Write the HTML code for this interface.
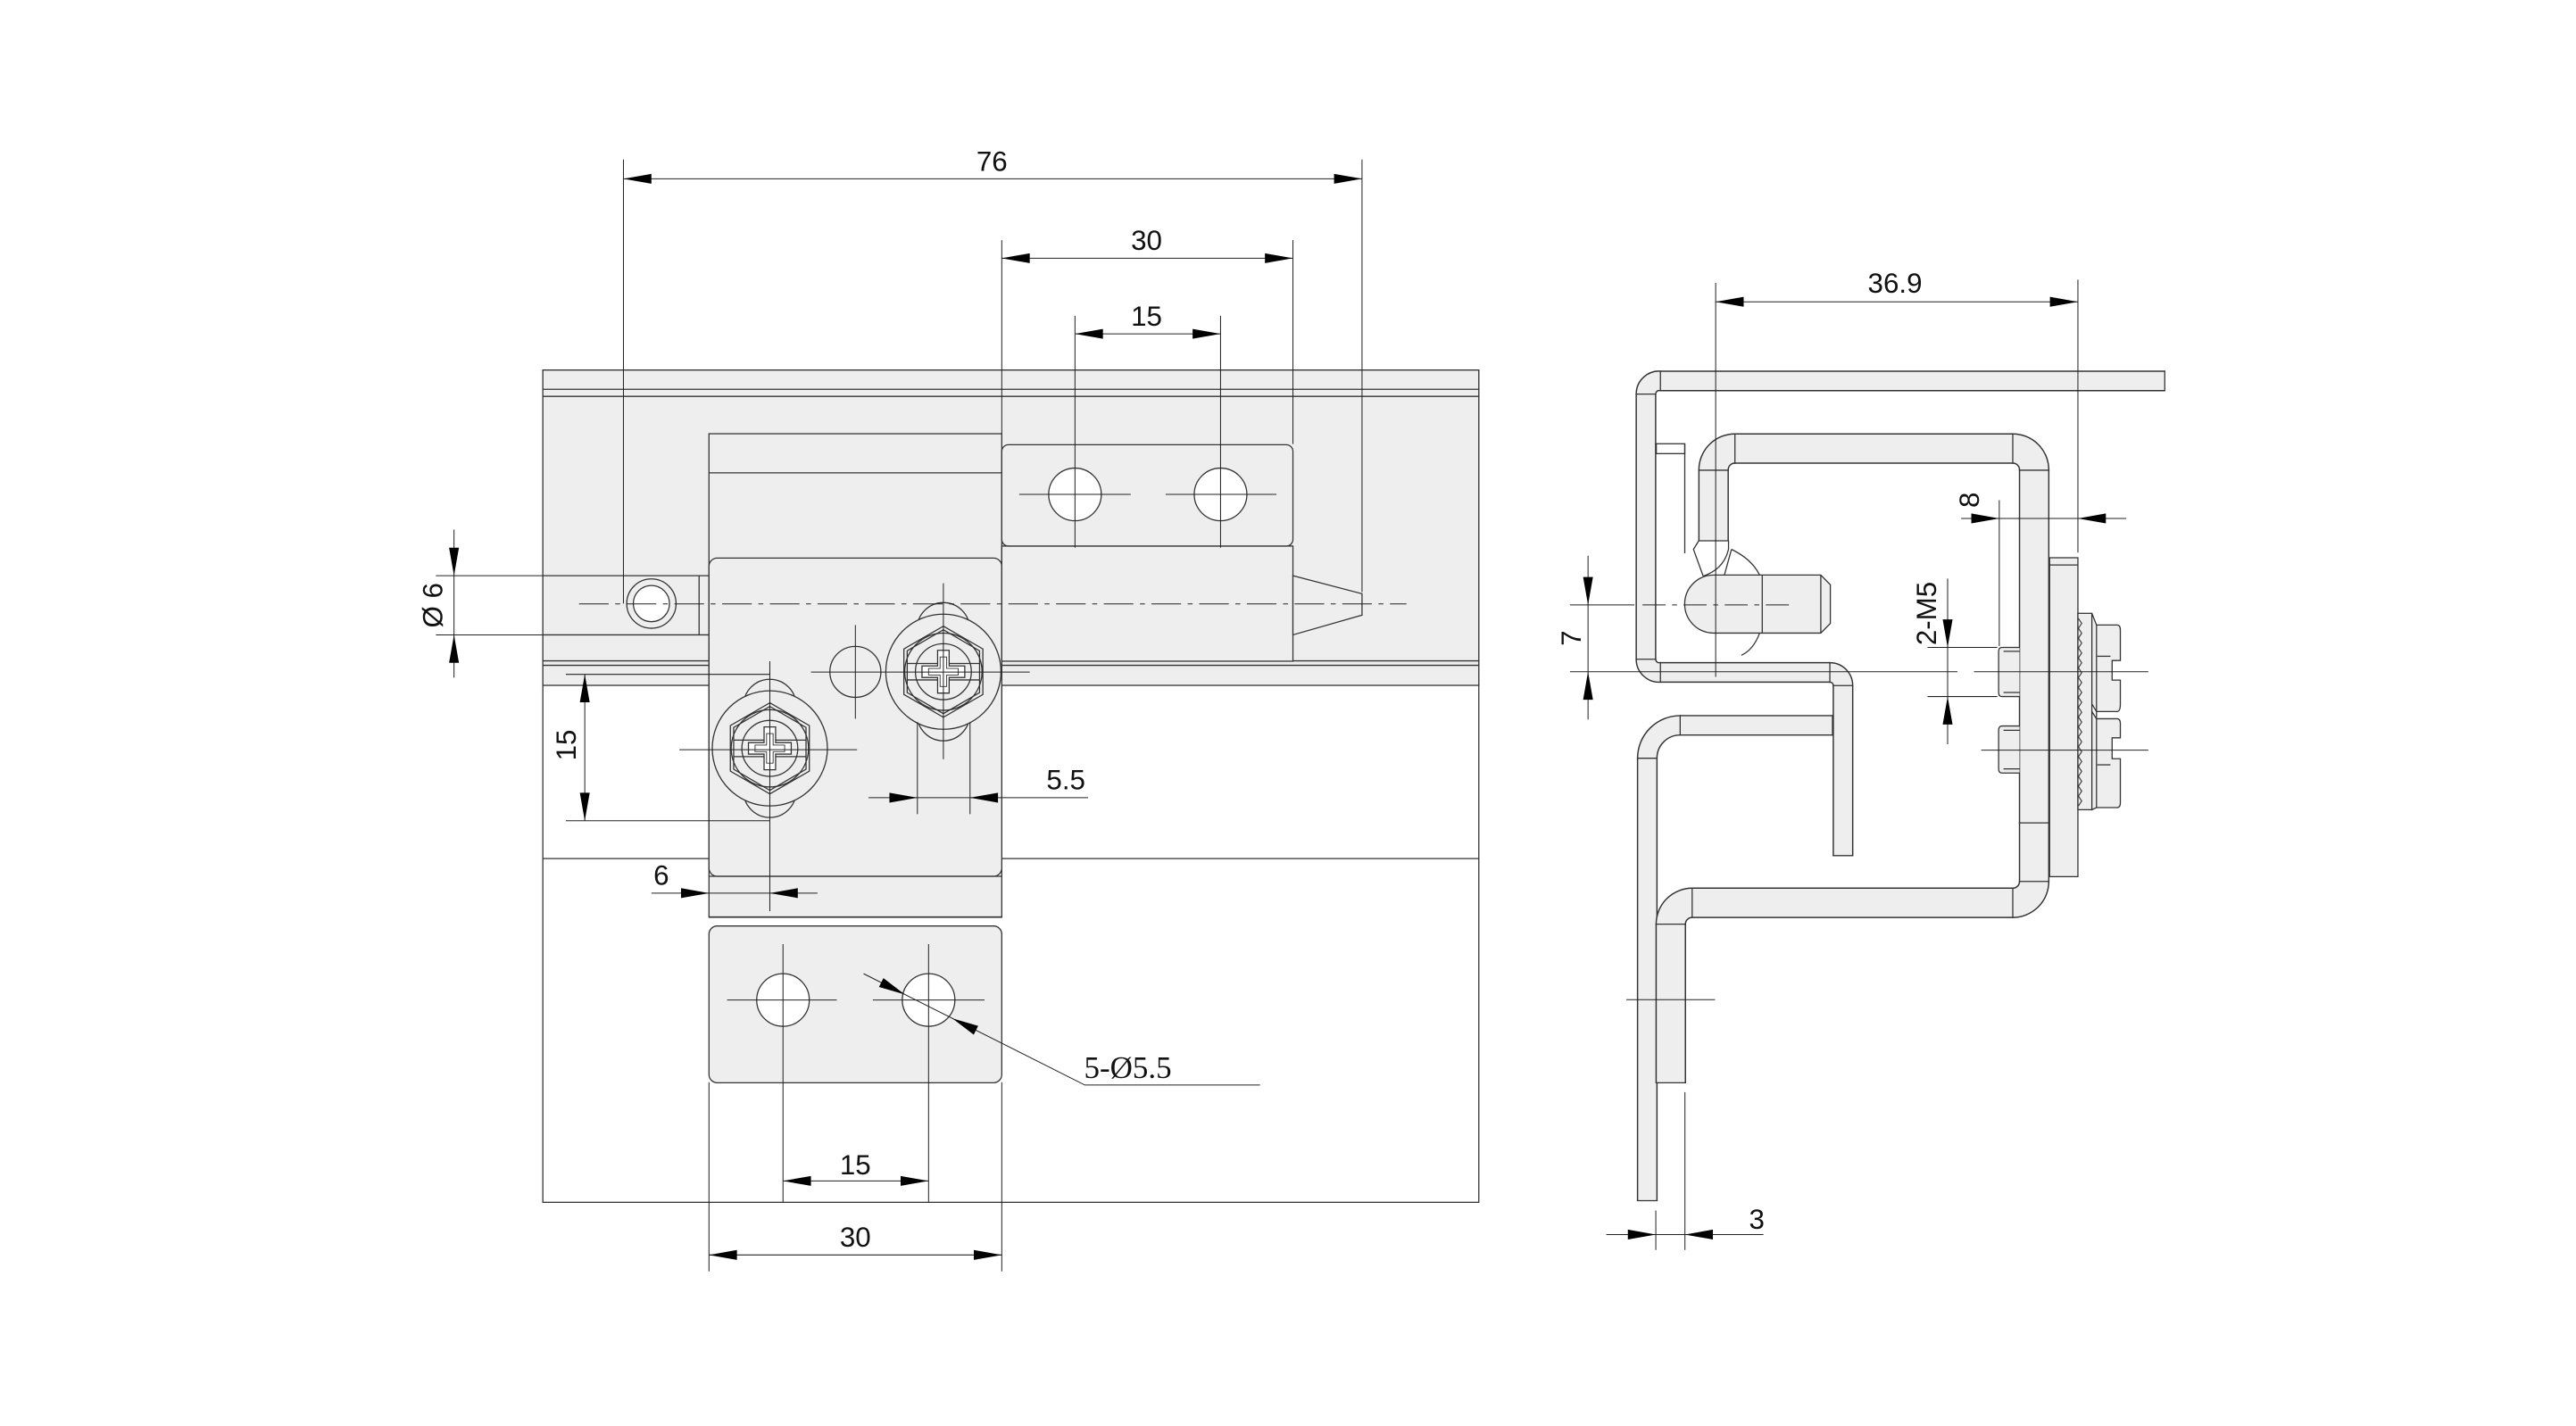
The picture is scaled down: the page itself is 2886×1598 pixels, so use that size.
<!DOCTYPE html>
<html><head><meta charset="utf-8"><style>
html,body{margin:0;padding:0;background:#fff}
svg{display:block}
text{font-family:"Liberation Sans","DejaVu Sans",sans-serif;fill:#111}
</style></head><body>
<svg width="2886" height="1598" viewBox="0 0 1566 867" preserveAspectRatio="none" xmlns="http://www.w3.org/2000/svg">
<g stroke="#333" stroke-width="0.7" fill="none">
<rect x="330" y="225" width="569" height="506" fill="#fff"/>
<rect x="330" y="225" width="569" height="191.7" fill="#eee"/>
<line x1="330" y1="236.7" x2="899" y2="236.7"/>
<line x1="330" y1="241" x2="899" y2="241"/>
<line x1="330" y1="401.8" x2="899" y2="401.8"/>
<line x1="330" y1="404.5" x2="899" y2="404.5"/>
<line x1="330" y1="522" x2="899" y2="522"/>
<line x1="330" y1="350" x2="431" y2="350"/>
<line x1="330" y1="386" x2="431" y2="386"/>
<line x1="425" y1="350" x2="425" y2="386"/>
<circle cx="396" cy="367" r="15" fill="#eee"/>
<circle cx="396" cy="367" r="11" fill="#fff"/>
<rect x="431" y="263.7" width="178" height="294" fill="#eee"/>
<line x1="431" y1="287.5" x2="609" y2="287.5"/>
<rect x="431" y="339.3" width="178" height="193.5" rx="5" fill="#eee"/>
<line x1="431" y1="532.8" x2="609" y2="532.8"/>
<line x1="431" y1="557.5" x2="609" y2="557.5"/>
<rect x="431" y="563" width="178" height="95.3" rx="5" fill="#eee"/>
<rect x="609" y="332" width="177" height="70" fill="#eee"/>
<rect x="609" y="270.4" width="177" height="61.6" rx="4" fill="#eee"/>
<polygon points="786,350 828,361 828,374 786,386" fill="#eee"/>
<circle cx="653.5" cy="300.6" r="16" fill="#fff"/>
<circle cx="742" cy="300.6" r="16" fill="#fff"/>
<circle cx="476" cy="608" r="16" fill="#fff"/>
<circle cx="564.5" cy="608" r="16" fill="#fff"/>
<circle cx="520" cy="408.5" r="15.5" fill="#eee"/>
<g transform="translate(573.5,408.4)">
<circle cx="0" cy="-26" r="16" fill="#eee"/><circle cx="0" cy="26" r="16" fill="#eee"/>
<circle r="35" fill="#eee"/>
<polygon points="0,-27.7 24,-13.85 24,13.85 0,27.7 -24,13.85 -24,-13.85" fill="#eee"/>
<polygon points="0,-25.5 22,-12.7 22,12.7 0,25.5 -22,12.7 -22,-12.7"/>
<circle r="23.5"/><circle r="17"/>
<line x1="-22" y1="-5" x2="22" y2="-5"/><line x1="-22" y1="5" x2="22" y2="5"/>
<path d="M-3.5,-13 H3.5 V-3.5 H13 V3.5 H3.5 V13 H-3.5 V3.5 H-13 V-3.5 H-3.5 Z" fill="#fff"/>
<path d="M-2,-9 H2 V-2 H9 V2 H2 V9 H-2 V2 H-9 V-2 H-2 Z" fill="#fff" stroke-width="0.5"/>
</g>
<g transform="translate(468,455)">
<circle cx="0" cy="-26" r="16" fill="#eee"/><circle cx="0" cy="26" r="16" fill="#eee"/>
<circle r="35" fill="#eee"/>
<polygon points="0,-27.7 24,-13.85 24,13.85 0,27.7 -24,13.85 -24,-13.85" fill="#eee"/>
<polygon points="0,-25.5 22,-12.7 22,12.7 0,25.5 -22,12.7 -22,-12.7"/>
<circle r="23.5"/><circle r="17"/>
<line x1="-22" y1="-5" x2="22" y2="-5"/><line x1="-22" y1="5" x2="22" y2="5"/>
<path d="M-3.5,-13 H3.5 V-3.5 H13 V3.5 H3.5 V13 H-3.5 V3.5 H-13 V-3.5 H-3.5 Z" fill="#fff"/>
<path d="M-2,-9 H2 V-2 H9 V2 H2 V9 H-2 V2 H-9 V-2 H-2 Z" fill="#fff" stroke-width="0.5"/>
</g>
</g>
<g stroke="#222" stroke-width="0.55" fill="none">
<line x1="352" y1="367.2" x2="855" y2="367.2" stroke-dasharray="18 4 3 4"/>
<line x1="619.6" y1="300.6" x2="687.4" y2="300.6"/><line x1="708.6" y1="300.6" x2="776" y2="300.6"/>
<line x1="442" y1="608" x2="508.7" y2="608"/><line x1="530.6" y1="608" x2="598.5" y2="608"/>
<line x1="493" y1="408.6" x2="626" y2="408.6"/><line x1="573.5" y1="354.6" x2="573.5" y2="461.6"/>
<line x1="520" y1="380" x2="520" y2="437"/>
<line x1="413" y1="455.8" x2="521" y2="455.8"/><line x1="468" y1="402" x2="468" y2="554"/>
<line x1="379" y1="97" x2="379" y2="367"/><line x1="828" y1="97" x2="828" y2="360"/>
<line x1="379" y1="108.7" x2="828" y2="108.7"/>
<line x1="609" y1="146" x2="609" y2="263.7"/><line x1="786" y1="146" x2="786" y2="270"/>
<line x1="609" y1="157" x2="786" y2="157"/>
<line x1="653.5" y1="192" x2="653.5" y2="333"/><line x1="742" y1="192" x2="742" y2="333"/>
<line x1="653.5" y1="203" x2="742" y2="203"/>
<line x1="265" y1="350" x2="330" y2="350"/><line x1="265" y1="386" x2="330" y2="386"/>
<line x1="276" y1="322" x2="276" y2="412"/>
<line x1="344" y1="410" x2="468" y2="410"/><line x1="344" y1="499" x2="468" y2="499"/>
<line x1="355.5" y1="410" x2="355.5" y2="499"/>
<line x1="557.7" y1="439" x2="557.7" y2="495"/><line x1="589.7" y1="439" x2="589.7" y2="495"/>
<line x1="528" y1="485" x2="661.5" y2="485"/>
<line x1="396" y1="543" x2="497" y2="543"/>
<line x1="476" y1="574" x2="476" y2="731"/><line x1="564.5" y1="574" x2="564.5" y2="731"/>
<line x1="476" y1="718" x2="564.5" y2="718"/>
<line x1="431" y1="658" x2="431" y2="773"/><line x1="609" y1="658" x2="609" y2="773"/>
<line x1="431" y1="763" x2="609" y2="763"/>
<polyline points="525,592 659.5,659.7 766,659.7"/>
</g>
<g fill="#000" stroke="none">
<polygon points="379,108.7 396,105.7 396,111.7"/><polygon points="828,108.7 811,105.7 811,111.7"/>
<polygon points="609,157 626,154 626,160"/><polygon points="786,157 769,154 769,160"/>
<polygon points="653.5,203 670.5,200 670.5,206"/><polygon points="742,203 725,200 725,206"/>
<polygon points="276,350 273,333 279,333"/><polygon points="276,386 273,403 279,403"/>
<polygon points="355.5,410 352.5,427 358.5,427"/><polygon points="355.5,499 352.5,482 358.5,482"/>
<polygon points="557.7,485 540.7,482 540.7,488"/><polygon points="589.7,485 606.7,482 606.7,488"/>
<polygon points="431,543 414,540 414,546"/><polygon points="468,543 485,540 485,546"/>
<polygon points="476,718 493,715 493,721"/><polygon points="564.5,718 547.5,715 547.5,721"/>
<polygon points="431,763 448,760 448,766"/><polygon points="609,763 592,760 592,766"/>
<polygon points="550,604.6 534.35,600.08 537.05,594.72"/><polygon points="579,619.2 591.95,629.08 594.65,623.72"/>
</g>
<g font-size="17" text-anchor="middle">
<text x="603" y="104">76</text>
<text x="697" y="152">30</text>
<text x="697" y="198">15</text>
<text x="648" y="480">5.5</text>
<text x="402" y="538">6</text>
<text x="520" y="714">15</text>
<text x="520" y="758">30</text>
<text transform="translate(350,453) rotate(-90)">15</text>
<text transform="translate(269,368) rotate(-90)">Ø 6</text>
</g>
<text x="659" y="655.5" font-size="19" style="font-family:'Liberation Serif','DejaVu Serif',serif">5-Ø5.5</text>

<g fill="none">
<path d="M1114,441 H1021.4 A20 20 0 0 0 1001.4,461 V730" stroke="#333" stroke-width="12.6"/>
<path d="M1114,441 H1021.4 A20 20 0 0 0 1001.4,461 V730" stroke="#eee" stroke-width="11"/>
<path d="M1041.7,328.8 V285.9 A13 13 0 0 1 1054.7,272.7 H1223.6 A13 13 0 0 1 1236.6,285.9 V535.9 A13 13 0 0 1 1223.6,548.9 H1028.7 A13 13 0 0 0 1015.7,561.9 V658.3" stroke="#333" stroke-width="18.6"/>
<path d="M1041.7,328.8 V285.9 A13 13 0 0 1 1054.7,272.7 H1223.6 A13 13 0 0 1 1236.6,285.9 V535.9 A13 13 0 0 1 1223.6,548.9 H1028.7 A13 13 0 0 0 1015.7,561.9 V658.3" stroke="#eee" stroke-width="17"/>
<path d="M1316,231.6 H1009.4 A8 8 0 0 0 1000.6,239.6 V400.8 A8 8 0 0 0 1009.4,408.8 H1112.4 A8 8 0 0 1 1120.4,416.8 V520.2" stroke="#333" stroke-width="12.6"/>
<path d="M1316,231.6 H1009.4 A8 8 0 0 0 1000.6,239.6 V400.8 A8 8 0 0 0 1009.4,408.8 H1112.4 A8 8 0 0 1 1120.4,416.8 V520.2" stroke="#eee" stroke-width="11"/>
</g>
<g stroke="#333" stroke-width="0.7" fill="none">
<line x1="1316" y1="225.3" x2="1316" y2="237.9"/>
<line x1="1114.1" y1="520.2" x2="1126.7" y2="520.2"/>
<line x1="995.1" y1="730" x2="1007.7" y2="730"/>
<line x1="1032.4" y1="328.8" x2="1051" y2="328.8"/>
<line x1="1006.4" y1="658.3" x2="1025" y2="658.3"/>
<line x1="1114" y1="434.7" x2="1114" y2="447.3"/>
<line x1="1009.4" y1="225.3" x2="1009.4" y2="237.9"/>
<line x1="994.3" y1="239.6" x2="1006.9" y2="239.6"/>
<line x1="994.3" y1="400.8" x2="1006.9" y2="400.8"/>
<line x1="1009.4" y1="402.5" x2="1009.4" y2="415.1"/>
<line x1="1112.4" y1="402.5" x2="1112.4" y2="415.1"/>
<line x1="1114.1" y1="416.8" x2="1126.7" y2="416.8"/>
<line x1="1021.4" y1="434.7" x2="1021.4" y2="447.3"/>
<line x1="995.1" y1="461" x2="1007.7" y2="461"/>
<line x1="1054.7" y1="263.4" x2="1054.7" y2="282"/>
<line x1="1032.4" y1="285.9" x2="1051" y2="285.9"/>
<line x1="1223.6" y1="263.4" x2="1223.6" y2="282"/>
<line x1="1227.3" y1="285.9" x2="1245.9" y2="285.9"/>
<line x1="1227.3" y1="535.9" x2="1245.9" y2="535.9"/>
<line x1="1223.6" y1="539.6" x2="1223.6" y2="558.2"/>
<line x1="1028.7" y1="539.6" x2="1028.7" y2="558.2"/>
<line x1="1006.4" y1="561.9" x2="1025" y2="561.9"/>
<line x1="1227.3" y1="500.3" x2="1245.9" y2="500.3"/>
<rect x="1006.9" y="269.8" width="17.3" height="6"/>
<line x1="1024.2" y1="269.8" x2="1024.2" y2="336.4"/>
<polyline points="1032.7,328.8 1029.5,334 1035.4,350.3"/>
<path d="M1050.8,328.8 L1050.8,333.9 Q1048,346 1035.4,350.3"/>
<line x1="1052.6" y1="334" x2="1048.1" y2="350.3"/>
<path d="M1052.6,334 Q1065,340 1069.7,349.6"/>
<path d="M1069.7,384.9 Q1066,395 1058.6,398.4"/>
<path d="M1041.8,349.6 H1106.9 L1112.7,355.5 V379 L1106.9,384.9 H1041.8 A17.6 17.6 0 0 1 1041.8,349.6 Z" fill="#eee"/>
<line x1="1071.3" y1="349.6" x2="1071.3" y2="384.9"/>
<line x1="1106.9" y1="349.6" x2="1106.9" y2="384.9"/>
<path d="M1227.7,393.6 H1217 Q1215,393.6 1215,396 V421 Q1215,423.5 1217,423.5 H1227.7" fill="#eee"/>
<line x1="1218" y1="396" x2="1227.7" y2="396"/><line x1="1218" y1="421" x2="1227.7" y2="421"/>
<path d="M1227.7,441.4 H1217 Q1215,441.4 1215,444 V467.5 Q1215,470 1217,470 H1227.7" fill="#eee"/>
<line x1="1218" y1="444" x2="1227.7" y2="444"/><line x1="1218" y1="467.5" x2="1227.7" y2="467.5"/>
<rect x="1246" y="339.1" width="17.2" height="193.9" fill="#eee"/>
<line x1="1246" y1="343.5" x2="1263.2" y2="343.5"/>
<rect x="1263.2" y="372.9" width="8.5" height="119.4" fill="#eee"/>
<path d="M1263.5,376 l2,3 l-2,3 l2,3 l-2,3 l2,3 l-2,3 l2,3 l-2,3 l2,3 l-2,3 l2,3 l-2,3 l2,3 l-2,3 l2,3 l-2,3 l2,3 l-2,3 l2,3 l-2,3 l2,3 l-2,3 l2,3 l-2,3 l2,3 l-2,3 l2,3 l-2,3 l2,3 l-2,3 l2,3 l-2,3 l2,3 l-2,3 l2,3 l-2,3 l2,3 l-2,3" stroke-width="0.6"/>
<path d="M1271.7,372.9 L1274.5,380 H1287 Q1289,380 1289,383 V401.6 H1284 V413.5 H1289 V428 Q1289,432.6 1287,432.6 H1274.5 L1271.7,428 Z" fill="#eee"/>
<path d="M1271.7,432.6 L1274.5,437 H1287 Q1289,437 1289,440 V448.6 H1284 V461.3 H1289 V488 Q1289,491 1287,491 H1274.5 L1271.7,492.3 Z" fill="#eee"/>
<line x1="1274.5" y1="380" x2="1274.5" y2="491"/>
<line x1="1275" y1="399" x2="1283" y2="399"/><line x1="1275" y1="465" x2="1283" y2="465"/>
</g>
<g stroke="#222" stroke-width="0.55" fill="none">
<line x1="998.5" y1="367.8" x2="1088" y2="367.8" stroke-dasharray="14 4 3 4"/>
<line x1="1043" y1="172" x2="1043" y2="411.5"/>
<line x1="1263.2" y1="170" x2="1263.2" y2="336"/>
<line x1="1043" y1="183.5" x2="1263.2" y2="183.5"/>
<line x1="954.4" y1="367.8" x2="993.6" y2="367.8"/>
<line x1="954.4" y1="408.4" x2="1190" y2="408.4"/>
<line x1="1200" y1="408.4" x2="1306" y2="408.4"/>
<line x1="965.4" y1="337.9" x2="965.4" y2="437.4"/>
<line x1="1192.2" y1="315.2" x2="1292.6" y2="315.2"/>
<line x1="1215.4" y1="304.1" x2="1215.4" y2="392.8"/>
<line x1="1184" y1="351.8" x2="1184" y2="452.5"/>
<line x1="1171.8" y1="393.6" x2="1214.2" y2="393.6"/>
<line x1="1171.8" y1="423.5" x2="1214.2" y2="423.5"/>
<line x1="1204.4" y1="456.1" x2="1306" y2="456.1"/>
<line x1="988.7" y1="607.8" x2="1042.6" y2="607.8"/>
<line x1="1006.6" y1="736" x2="1006.6" y2="760"/>
<line x1="1024.3" y1="664" x2="1024.3" y2="760"/>
<line x1="976.5" y1="750.6" x2="1072" y2="750.6"/>
</g>
<g fill="#000" stroke="none">
<polygon points="1043,183.5 1060,180.5 1060,186.5"/><polygon points="1263.2,183.5 1246.2,180.5 1246.2,186.5"/>
<polygon points="965.4,367.8 962.4,350.8 968.4,350.8"/><polygon points="965.4,408.4 962.4,425.4 968.4,425.4"/>
<polygon points="1215.4,315.2 1198.4,312.2 1198.4,318.2"/><polygon points="1263.2,315.2 1280.2,312.2 1280.2,318.2"/>
<polygon points="1184,393.6 1181,376.6 1187,376.6"/><polygon points="1184,423.5 1181,440.5 1187,440.5"/>
<polygon points="1006.6,750.6 989.6,747.6 989.6,753.6"/><polygon points="1024.3,750.6 1041.3,747.6 1041.3,753.6"/>
</g>
<g font-size="17" text-anchor="middle">
<text x="1152" y="178">36.9</text>
<text x="1068" y="747">3</text>
<text transform="translate(1203,304) rotate(-90)">8</text>
<text transform="translate(1177,373) rotate(-90)">2-M5</text>
<text transform="translate(961,388) rotate(-90)">7</text>
</g>
</svg>
</body></html>
